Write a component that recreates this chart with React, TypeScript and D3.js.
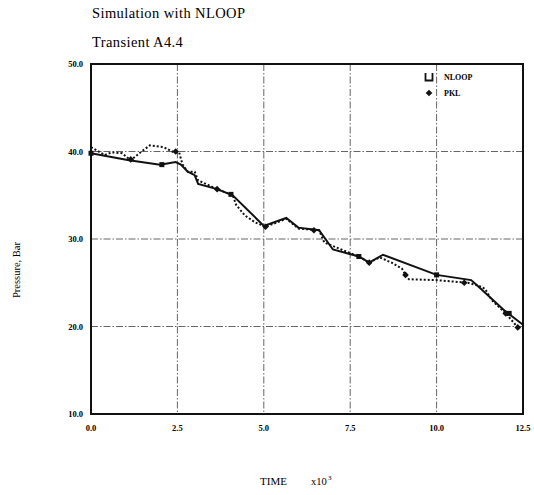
import * as d3 from 'd3';

// NLOOP simulation (solid) - time in 1000 s, pressure in bar
const nloopTime = [0.0, 1.1, 2.0, 2.45, 2.6, 2.8, 3.0, 3.1, 3.65, 4.1, 5.0, 5.65, 6.0, 6.6, 7.0, 7.75, 8.05, 8.45, 10.0, 11.0, 11.2, 12.0, 12.5];
const nloopPress = [39.8, 39.0, 38.5, 38.8, 38.5, 37.7, 37.3, 36.3, 35.7, 35.0, 31.5, 32.4, 31.3, 31.0, 28.8, 28.0, 27.3, 28.2, 25.9, 25.3, 24.6, 21.7, 20.2];

// PKL experiment (dotted)
const pklTime = [0.0, 0.4, 0.6, 0.9, 1.15, 1.4, 1.7, 2.1, 2.4, 2.55, 2.65, 2.8, 3.0, 3.1, 3.65, 4.1, 4.2, 4.45, 4.75, 5.05, 5.65, 6.0, 6.6, 6.75, 7.0, 7.3, 7.75, 8.05, 8.35, 8.7, 9.0, 9.1, 9.2, 10.0, 10.9, 11.2, 11.4, 11.6, 12.0, 12.35];
const pklPress = [40.5, 39.6, 39.9, 39.8, 39.0, 39.8, 40.7, 40.5, 39.9, 39.9, 38.5, 37.7, 37.7, 36.7, 35.7, 35.0, 33.9, 32.7, 31.9, 31.4, 32.3, 31.2, 31.0, 29.6, 29.2, 28.7, 28.0, 27.3, 27.9, 27.3, 26.6, 25.9, 25.4, 25.3, 25.0, 24.7, 24.3, 23.0, 21.5, 19.9];

// marker points
const nloopMarkT = [0.0, 2.05, 4.05, 7.75, 10.0, 12.1];
const nloopMarkP = [39.8, 38.5, 35.1, 28.0, 25.9, 21.5];
const pklMarkT = [1.15, 2.45, 3.65, 5.05, 6.45, 8.05, 9.1, 10.8, 12.0, 12.35];
const pklMarkP = [39.1, 40.0, 35.7, 31.4, 31.0, 27.3, 25.9, 25.0, 21.5, 19.9];

const xTicks = [0, 2.5, 5.0, 7.5, 10.0, 12.5];
const yTicks = [10, 20, 30, 40, 50];

const legendNames = ['NLOOP', 'PKL'];

export default function App() {
  const width = 534;
  const height = 495;
  const margin = { top: 64, right: 11, bottom: 81, left: 91 };

  const x = d3.scaleLinear().domain([0, 12.5]).range([margin.left, width - margin.right]);
  const y = d3.scaleLinear().domain([10, 50]).range([height - margin.bottom, margin.top]);

  const line = d3.line<[number, number]>()
    .x(d => x(d[0]))
    .y(d => y(d[1]));

  const nloopPts = nloopTime.map((t, i) => [t, nloopPress[i]] as [number, number]);
  const pklPts = pklTime.map((t, i) => [t, pklPress[i]] as [number, number]);

  const serif = '"Liberation Serif", "Times New Roman", serif';
  const gridDash = '7,2,1.5,2';
  const dot = d3.symbol(d3.symbolSquare, 22)() ?? '';

  return (
    <svg width={width} height={height} style={{ position: 'absolute', left: 0, top: 0, background: '#fff' }} fontFamily={serif}>
      <text x={92} y={18} fontSize={14.5} letterSpacing={0.4}>Simulation with NLOOP</text>
      <text x={92} y={47} fontSize={14.5} letterSpacing={0.4}>Transient A4.4</text>

      {/* grid */}
      {xTicks.slice(1, -1).map(t => (
        <line key={'gx' + t} x1={x(t)} x2={x(t)} y1={y(50)} y2={y(10)} stroke="#666" strokeWidth={1} strokeDasharray={gridDash} />
      ))}
      {yTicks.slice(1, -1).map(v => (
        <line key={'gy' + v} x1={x(0)} x2={x(12.5)} y1={y(v)} y2={y(v)} stroke="#666" strokeWidth={1} strokeDasharray={gridDash} />
      ))}

      {/* frame */}
      <rect x={x(0)} y={y(50)} width={x(12.5) - x(0)} height={y(10) - y(50)} fill="none" stroke="#111" strokeWidth={2} />

      {/* tick labels */}
      {yTicks.map(v => (
        <text key={'ty' + v} x={x(0) - 8} y={y(v) + 3} fontSize={8.5} fontWeight="bold" textAnchor="end">{v.toFixed(1)}</text>
      ))}
      {xTicks.map(t => (
        <text key={'tx' + t} x={x(t)} y={y(10) + 17} fontSize={8.5} fontWeight="bold" textAnchor="middle">{t.toFixed(1)}</text>
      ))}

      {/* lines */}
      <path d={line(pklPts) ?? ''} fill="none" stroke="#111" strokeWidth={2} strokeDasharray="2,2" />
      <path d={line(nloopPts) ?? ''} fill="none" stroke="#111" strokeWidth={2} />

      {nloopMarkT.map((t, i) => (
        <rect key={'nm' + i} x={x(t) - 2.5} y={y(nloopMarkP[i]) - 2.5} width={5} height={5} fill="#111" />
      ))}
      {pklMarkT.map((t, i) => (
        <path key={'pm' + i} d={dot} transform={`translate(${x(t)},${y(pklMarkP[i])}) rotate(45)`} fill="#111" />
      ))}

      {/* legend */}
      <path d="M425.5,73 V80.5 H432.5 V73" fill="none" stroke="#111" strokeWidth={1.8} />
      <text x={444} y={80} fontSize={8} fontWeight="bold">{legendNames[0]}</text>
      <path d={dot} transform="translate(429,93) rotate(45)" fill="#111" />
      <text x={444} y={96} fontSize={8} fontWeight="bold">{legendNames[1]}</text>

      {/* axis titles */}
      <text transform="translate(20,270) rotate(-90)" fontSize={10.5} textAnchor="middle">Pressure, Bar</text>
      <text x={260} y={485} fontSize={11}>TIME</text>
      <text x={311} y={485} fontSize={10.5}>x10</text>
      <text x={328} y={480} fontSize={7}>3</text>
    </svg>
  );
}
